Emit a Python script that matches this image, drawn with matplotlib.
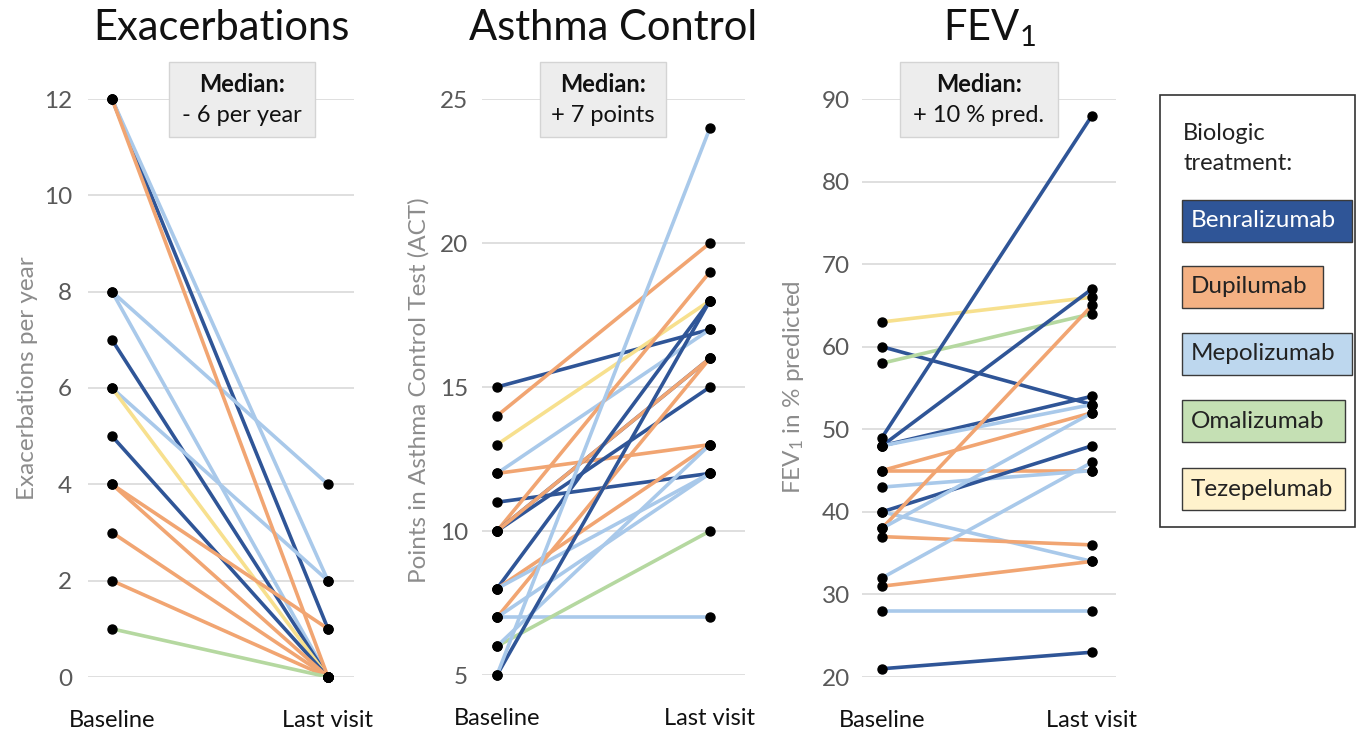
import matplotlib
matplotlib.use("Agg")
import matplotlib.pyplot as plt
from matplotlib.patches import Rectangle

plt.rcParams['font.family'] = ['Lato', 'DejaVu Sans']
plt.rcParams['mathtext.fontset'] = 'custom'
plt.rcParams['mathtext.rm'] = 'Lato'
plt.rcParams['mathtext.it'] = 'Lato'

# ---------------- data ----------------
categories = ["Baseline", "Last visit"]
treatments = ["Benralizumab", "Dupilumab", "Mepolizumab", "Omalizumab", "Tezepelumab"]
line_colors = ["#2F5597", "#F1A572", "#A9C9EA", "#B5D8A0", "#F7E08E"]
box_colors = ["#2F5597", "#F4B183", "#BDD7EE", "#C5E0B4", "#FFF2CC"]
box_text_colors = ["white", "#222222", "#222222", "#222222", "#222222"]

exa_base = [12, 12, 8, 8, 7, 6, 6, 5, 4, 4, 3, 2, 1, 12]
exa_last = [1, 2, 4, 0, 0, 2, 0, 0, 1, 0, 0, 0, 0, 0]
exa_treat = ["Benralizumab", "Mepolizumab", "Mepolizumab", "Mepolizumab",
             "Benralizumab", "Mepolizumab", "Tezepelumab", "Benralizumab", "Dupilumab",
             "Dupilumab", "Dupilumab", "Dupilumab", "Omalizumab", "Dupilumab"]

act_base = [15, 14, 13, 12, 12, 11, 10, 10, 10, 10, 8, 8, 8, 7, 7, 7, 6, 6, 5, 5]
act_last = [17, 20, 18, 17, 13, 12, 19, 16, 15, 16, 18, 13, 12, 7, 16, 12, 10, 13, 18, 24]
act_treat = ["Benralizumab", "Dupilumab", "Tezepelumab", "Mepolizumab", "Dupilumab",
             "Benralizumab", "Dupilumab", "Benralizumab", "Benralizumab", "Dupilumab",
             "Benralizumab", "Dupilumab", "Mepolizumab", "Mepolizumab", "Dupilumab",
             "Mepolizumab", "Omalizumab", "Mepolizumab", "Benralizumab", "Mepolizumab"]

fev_base = [63, 60, 58, 49, 48, 48, 48, 45, 45, 43, 40, 40, 38, 38, 37, 32, 31, 28, 21]
fev_last = [66, 53, 64, 88, 67, 54, 53, 52, 45, 45, 48, 34, 65, 52, 36, 46, 34, 28, 23]
fev_treat = ["Tezepelumab", "Benralizumab", "Omalizumab", "Benralizumab", "Benralizumab",
             "Benralizumab", "Mepolizumab", "Dupilumab", "Dupilumab", "Mepolizumab",
             "Benralizumab", "Mepolizumab", "Dupilumab", "Mepolizumab", "Dupilumab",
             "Mepolizumab", "Dupilumab", "Mepolizumab", "Benralizumab"]

titles = ["Exacerbations", "Asthma Control", "FEV$_\\mathregular{1}$"]
ylabels = ["Exacerbations per year", "Points in Asthma Control Test (ACT)",
           "FEV$_\\mathregular{1}$ in % predicted"]
medians = ["- 6 per year", "+ 7 points", "+ 10 % pred."]
yticks_list = [list(range(0, 13, 2)), list(range(5, 26, 5)), list(range(20, 91, 10))]

# ---------------- layout helpers (pixel based) ----------------
W, H = 1357, 732
fig = plt.figure(figsize=(W / 100, H / 100), dpi=100)


def fx(x):
    return x / W


def fy(y):
    return 1 - y / H


color_of = dict(zip(treatments, line_colors))

panels = [
    dict(l=88, r=354, t=99, b=677, xb=112, xl=328, lab_x=28, lab_y=378,
         box=(169, 62, 315, 137), tick_pad=11.5),
    dict(l=482, r=745, t=99, b=675, xb=497, xl=710, lab_x=419, lab_y=390,
         box=(540, 62, 666, 137), tick_pad=10),
    dict(l=862, r=1116, t=99, b=677, xb=882, xl=1092, lab_x=794, lab_y=387,
         box=(900, 62, 1058, 137), tick_pad=8.6),
]

datasets = [
    (exa_base, exa_last, exa_treat),
    (act_base, act_last, act_treat),
    (fev_base, fev_last, fev_treat),
]

for i, (p, (base, last, treat)) in enumerate(zip(panels, datasets)):
    ax = fig.add_axes([fx(p["l"]), fy(p["b"]), fx(p["r"] - p["l"]), (p["b"] - p["t"]) / H])
    span = p["xl"] - p["xb"]
    ax.set_xlim(-(p["xb"] - p["l"]) / span, 1 + (p["r"] - p["xl"]) / span)
    yt = yticks_list[i]
    ax.set_ylim(yt[0], yt[-1])
    ax.set_yticks(yt)
    ax.set_xticks([0, 1])
    ax.set_xticklabels(categories, fontsize=17, color="#111111")
    ax.tick_params(axis="y", labelsize=17.5, labelcolor="#595959", length=0, pad=p["tick_pad"])
    ax.tick_params(axis="x", length=0, pad=24)
    for s in ax.spines.values():
        s.set_visible(False)
    ax.grid(axis="y", color="#D9D9D9", lw=1.2)
    ax.set_axisbelow(True)
    for b, l, t in zip(base, last, treat):
        ax.plot([0, 1], [b, l], color=color_of[t], lw=2.6, solid_capstyle="round", zorder=2)
    ax.scatter([0] * len(base), base, s=42, color="black", zorder=5, clip_on=False)
    ax.scatter([1] * len(last), last, s=42, color="black", zorder=5, clip_on=False)

    # title
    cx = (p["l"] + p["r"]) / 2
    fig.text(fx(cx), fy(28), titles[i], ha="center", va="center", fontsize=30, color="#111111")
    # y label
    fig.text(fx(p["lab_x"]), fy(p["lab_y"]), ylabels[i], rotation=90, ha="center",
             va="center", fontsize=17.5, color="#8C8C8C")
    # median box
    x0, y0, x1, y1 = p["box"]
    fig.patches.append(Rectangle((fx(x0), fy(y1)), fx(x1 - x0), (y1 - y0) / H,
                                 transform=fig.transFigure, facecolor="#EDEDED",
                                 edgecolor="#D4D4D4", lw=1, zorder=10))
    bx = (x0 + x1) / 2
    fig.text(fx(bx), fy(84), "Median:", ha="center", va="center", fontsize=17,
             fontweight="bold", color="#111111", zorder=11)
    fig.text(fx(bx), fy(115), medians[i], ha="center", va="center", fontsize=17,
             color="#111111", zorder=11)

# ---------------- legend ----------------
fig.patches.append(Rectangle((fx(1160), fy(527)), fx(195), (527 - 95) / H,
                             transform=fig.transFigure, facecolor="white",
                             edgecolor="#333333", lw=1.2))
fig.text(fx(1183), fy(133), "Biologic", ha="left", va="center", fontsize=17, color="#222222")
fig.text(fx(1183), fy(163), "treatment:", ha="left", va="center", fontsize=17, color="#222222")

legend_boxes = [(1182, 200, 1352, 242), (1182, 266, 1323, 308), (1182, 333, 1352, 375),
                (1182, 400, 1345, 442), (1182, 468, 1345, 510)]
for name, fc, tc, (x0, y0, x1, y1) in zip(treatments, box_colors, box_text_colors, legend_boxes):
    fig.patches.append(Rectangle((fx(x0), fy(y1)), fx(x1 - x0), (y1 - y0) / H,
                                 transform=fig.transFigure, facecolor=fc,
                                 edgecolor="#3A3A3A", lw=1.0, zorder=3))
    fig.text(fx(x0 + 9), fy((y0 + y1) / 2), name, ha="left", va="center", fontsize=17.5,
             color=tc, zorder=4)

fig.savefig("out.png", dpi=100, facecolor="white")
